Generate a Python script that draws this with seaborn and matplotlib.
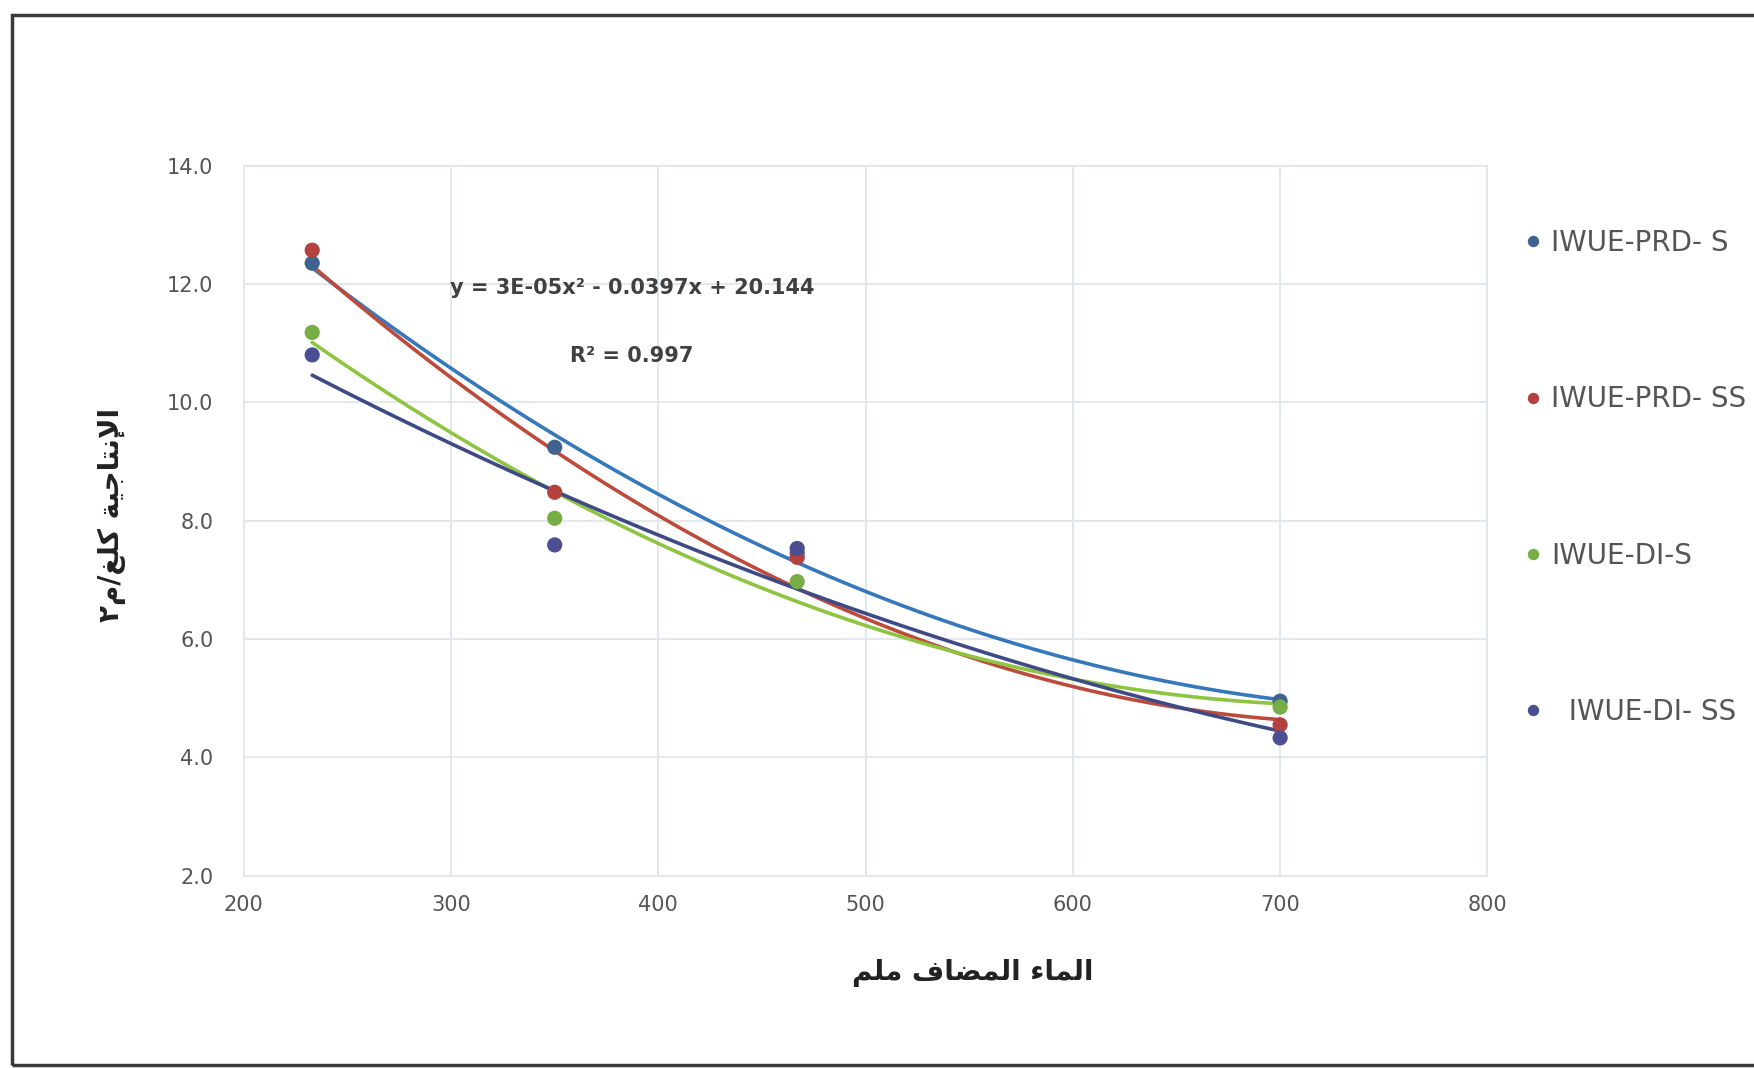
import numpy as np
import pandas as pd
import matplotlib
matplotlib.use("Agg")
import matplotlib.pyplot as plt
import seaborn as sns
from matplotlib.patches import Rectangle

# ---------------- data ----------------
water_mm = [233, 350, 467, 700]
iwue_prd_s = [12.35, 9.24, 7.45, 4.95]
iwue_prd_ss = [12.57, 8.48, 7.38, 4.55]
iwue_di_s = [11.18, 8.04, 6.97, 4.85]
iwue_di_ss = [10.80, 7.59, 7.53, 4.33]
series_names = ["IWUE-PRD- S", "IWUE-PRD- SS", "IWUE-DI-S", "  IWUE-DI- SS"]
x_ticks = [200, 300, 400, 500, 600, 700, 800]
y_ticks = [2.0, 4.0, 6.0, 8.0, 10.0, 12.0, 14.0]
x_label = "الماء المضاف ملم"
y_label = "الإنتاجية كلغ/م٢"
equation_text = "y = 3E-05x² - 0.0397x + 20.144"
r2_text = "R² = 0.997"

marker_colors = ["#3F6390", "#B3423E", "#76AD45", "#4C4E94"]
line_colors = ["#3579BC", "#BE4A3C", "#8DC540", "#3E4A86"]

# ---------------- minimal Arabic shaping (presentation forms) ----------------
FORMS = {  # isolated, final, initial, medial
    "\u0627": ("\uFE8D", "\uFE8E", None, None),
    "\u0625": ("\uFE87", "\uFE88", None, None),
    "\u0623": ("\uFE83", "\uFE84", None, None),
    "\u0629": ("\uFE93", "\uFE94", None, None),
    "\u0621": ("\uFE80", None, None, None),
    "\u0644": ("\uFEDD", "\uFEDE", "\uFEDF", "\uFEE0"),
    "\u0646": ("\uFEE5", "\uFEE6", "\uFEE7", "\uFEE8"),
    "\u062A": ("\uFE95", "\uFE96", "\uFE97", "\uFE98"),
    "\u062C": ("\uFE9D", "\uFE9E", "\uFE9F", "\uFEA0"),
    "\u064A": ("\uFEF1", "\uFEF2", "\uFEF3", "\uFEF4"),
    "\u0643": ("\uFED9", "\uFEDA", "\uFEDB", "\uFEDC"),
    "\u063A": ("\uFECD", "\uFECE", "\uFECF", "\uFED0"),
    "\u0645": ("\uFEE1", "\uFEE2", "\uFEE3", "\uFEE4"),
    "\u0636": ("\uFEBD", "\uFEBE", "\uFEBF", "\uFEC0"),
    "\u0641": ("\uFED1", "\uFED2", "\uFED3", "\uFED4"),
}
LAMALEF = {"\u0627": ("\uFEFB", "\uFEFC"), "\u0625": ("\uFEF9", "\uFEFA"),
           "\u0623": ("\uFEF7", "\uFEF8")}


def dual(c):
    return c in FORMS and FORMS[c][2] is not None


def shape(text):
    out = []
    i = 0
    n = len(text)
    while i < n:
        c = text[i]
        prev = text[i - 1] if i > 0 else ""
        pj = dual(prev)
        if c == "\u0644" and i + 1 < n and text[i + 1] in LAMALEF:
            iso, fin = LAMALEF[text[i + 1]]
            out.append(fin if pj else iso)
            i += 2
            continue
        if c in FORMS:
            iso, fin, ini, med = FORMS[c]
            nxt = text[i + 1] if i + 1 < n else ""
            nj = ini is not None and nxt in FORMS
            if pj and nj:
                f = med
            elif pj:
                f = fin or iso
            elif nj:
                f = ini
            else:
                f = iso
            out.append(f)
        else:
            out.append(c)
        i += 1
    return "".join(out)[::-1]


# ---------------- figure ----------------
sns.set_theme(style="white")
plt.rcParams["font.family"] = ["DejaVu Sans"]

fig = plt.figure(figsize=(17.54, 10.68), dpi=100)
fig.patch.set_facecolor("white")
ax = fig.add_axes([0.139, 0.180, 0.709, 0.665])

df = pd.DataFrame({
    "water": water_mm * 4,
    "iwue": iwue_prd_s + iwue_prd_ss + iwue_di_s + iwue_di_ss,
    "series": np.repeat(series_names, len(water_mm)),
})

for name, lc in zip(series_names, line_colors):
    sub = df[df["series"] == name]
    sns.regplot(data=sub, x="water", y="iwue", order=2, ci=None, scatter=False,
                truncate=True, line_kws=dict(color=lc, lw=2.6, zorder=2), ax=ax)

sns.scatterplot(data=df, x="water", y="iwue", hue="series",
                palette=dict(zip(series_names, marker_colors)), s=120,
                edgecolor="none", linewidth=0, ax=ax, zorder=3, legend=True)

ax.set_xlim(200, 800)
ax.set_ylim(2, 14)
ax.set_xticks(x_ticks)
ax.set_yticks(y_ticks)
ax.set_xticklabels([f"{v:d}" for v in x_ticks])
ax.set_yticklabels([f"{v:.1f}" for v in y_ticks])
ax.set_xlabel("")
ax.set_ylabel("")
ax.tick_params(axis="both", length=0, labelsize=15, labelcolor="#555555")
ax.tick_params(axis="y", pad=22)
ax.tick_params(axis="x", pad=14)
ax.grid(True, color="#E0E6EC", lw=1.3)
for sp in ax.spines.values():
    sp.set_color("#E0E6EC")
    sp.set_linewidth(1.3)

handles, labels = ax.get_legend_handles_labels()
ax.legend(handles, labels, loc="upper left", bbox_to_anchor=(0.855, 0.809),
          bbox_transform=fig.transFigure, frameon=False, fontsize=20,
          labelspacing=4.62, handlelength=0.6, handletextpad=0.35,
          markerscale=0.75, labelcolor="#555555")

ax.text(0.312, 0.828, equation_text, transform=ax.transAxes, ha="center",
        va="center", fontsize=15, color="#404040", fontweight="bold")
ax.text(0.312, 0.732, r2_text, transform=ax.transAxes, ha="center",
        va="center", fontsize=15, color="#404040", fontweight="bold")

fig.text(973 / 1754, 1 - 973 / 1068, shape(x_label), ha="center", va="center",
         fontsize=20, fontweight="bold", color="#222222")
fig.text(112 / 1754, 1 - 515 / 1068, shape(y_label), ha="center", va="center",
         rotation=90, fontsize=20, fontweight="bold", color="#222222")

fig.add_artist(Rectangle((12 / 1754, 3 / 1068), 1.2, 1 - 18 / 1068,
                         transform=fig.transFigure, fill=False,
                         edgecolor="#3A3A3A", lw=2.5, clip_on=False))

fig.savefig("out.png", dpi=100, facecolor="white")
